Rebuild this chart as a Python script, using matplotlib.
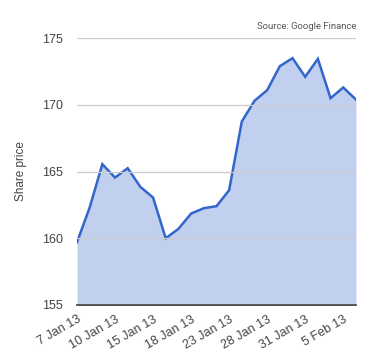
import numpy as np
import matplotlib
matplotlib.use("Agg")
import matplotlib.pyplot as plt

plt.rcParams['font.family'] = ['Liberation Sans', 'DejaVu Sans']

# trading days, 7 Jan 13 .. 6 Feb 13
dates = ["7 Jan 13", "8 Jan 13", "9 Jan 13", "10 Jan 13", "11 Jan 13",
         "14 Jan 13", "15 Jan 13", "16 Jan 13", "17 Jan 13", "18 Jan 13",
         "21 Jan 13", "22 Jan 13", "23 Jan 13", "24 Jan 13", "25 Jan 13",
         "28 Jan 13", "29 Jan 13", "30 Jan 13", "31 Jan 13", "1 Feb 13",
         "4 Feb 13", "5 Feb 13", "6 Feb 13"]
price = [159.7, 162.3, 165.55, 164.55, 165.25, 163.85, 163.05, 160.0,
         160.7, 161.85, 162.25, 162.4, 163.6, 168.75, 170.3, 171.1,
         172.9, 173.5, 172.1, 173.45, 170.5, 171.3, 170.4]
yticks = [155, 160, 165, 170, 175]

x = np.arange(len(dates))

fig = plt.figure(figsize=(3.8, 3.6), dpi=100)
ax = fig.add_axes([0.2026, 0.153, 0.734, 0.741])

ax.fill_between(x, 155, price, color="#c1d0ef", lw=0)
ax.plot(x, price, color="#3366cc", lw=1.8, solid_joinstyle="miter")

ax.set_xlim(0, len(dates) - 1)
ax.set_ylim(155, 175)
ax.set_yticks(yticks)
ax.set_xticks(x[::3])
ax.set_xticklabels(dates[::3], rotation=30, ha="right", rotation_mode="anchor")
ax.grid(axis="y", color="#cccccc", lw=0.9)
ax.set_axisbelow(False)
for s in ["top", "right", "left"]:
    ax.spines[s].set_visible(False)
ax.spines["bottom"].set_color("#333333")
ax.spines["bottom"].set_linewidth(1.2)
ax.tick_params(axis="both", length=0, labelsize=9, colors="#444444")
ax.tick_params(axis="y", pad=10)
ax.tick_params(axis="x", pad=6)
ax.set_ylabel("Share price", fontsize=8.5, color="#444444", labelpad=11)
ax.text(1.0, 1.045, "Source: Google Finance", transform=ax.transAxes,
        ha="right", va="center", fontsize=6.8, color="#555555",
        family=["Roboto", "DejaVu Sans"])

fig.savefig("out.png", dpi=100)
